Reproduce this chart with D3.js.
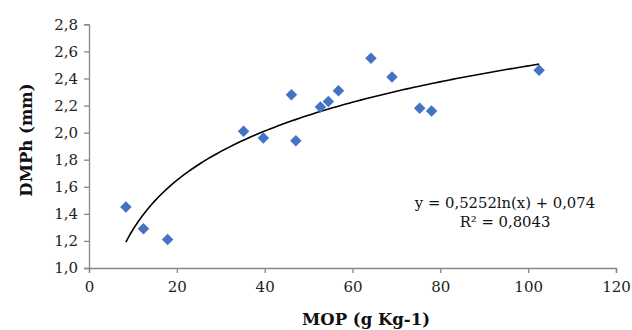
<!DOCTYPE html>
<html><head><meta charset="utf-8">
<script src="https://cdn.jsdelivr.net/npm/d3@7"></script>
<style>body{margin:0;background:#fff}svg{display:block}</style>
</head><body>
<script>
const mopValues = [8.4, 12.4, 17.9, 35.2, 39.7, 46.1, 47.1, 52.7, 54.5, 56.8, 64.2, 69.0, 75.3, 78.0, 102.5];
const dmphValues = [1.45, 1.29, 1.21, 2.01, 1.96, 2.28, 1.94, 2.19, 2.23, 2.31, 2.55, 2.41, 2.18, 2.16, 2.46];
const xTicks = [0, 20, 40, 60, 80, 100, 120];
const yTicks = [1.0, 1.2, 1.4, 1.6, 1.8, 2.0, 2.2, 2.4, 2.6, 2.8];
const trendCoef = [0.5252, 0.074]; // y = a ln(x) + b
const eqLabels = ["y = 0,5252ln(x) + 0,074", "R² = 0,8043"];

const W = 632, H = 330;
const svg = d3.select("body").append("svg").attr("width", W).attr("height", H);
const font = "'DejaVu Serif', serif";
const x = d3.scaleLinear().domain([0, 120]).range([89, 616]);
const y = d3.scaleLinear().domain([1.0, 2.8]).range([268, 24.3]);
const fmt = d => d3.format(".1f")(d).replace(".", ",");

const gx = svg.append("g").attr("transform", `translate(0,${y(1.0)})`)
  .call(d3.axisBottom(x).tickValues(xTicks).tickSize(5).tickPadding(8).tickFormat(d => d));
const gy = svg.append("g").attr("transform", `translate(${x(0)},0)`)
  .call(d3.axisLeft(y).tickValues(yTicks).tickSize(5).tickPadding(6).tickFormat(fmt));
[gx, gy].forEach(g => {
  g.select(".domain").attr("stroke", "#868686").attr("stroke-width", 1.3);
  g.selectAll(".tick line").attr("stroke", "#868686").attr("stroke-width", 1.3);
  g.selectAll(".tick text").attr("font-family", font).attr("font-size", 15).attr("fill", "#222");
});

// trendline
const xmin = d3.min(mopValues), xmax = d3.max(mopValues);
const trendX = d3.range(0, 101).map(i => xmin + (xmax - xmin) * i / 100);
svg.append("path")
  .datum(trendX)
  .attr("fill", "none").attr("stroke", "#000").attr("stroke-width", 1.6)
  .attr("d", d3.line().x(d => x(d)).y(d => y(trendCoef[0] * Math.log(d) + trendCoef[1])));

// points
const sym = d3.symbol().type(d3.symbolDiamond2).size(84);
svg.append("g").selectAll("path").data(mopValues).join("path")
  .attr("transform", (d, i) => `translate(${x(d)},${y(dmphValues[i])})`)
  .attr("d", sym).attr("fill", "#4472C4");

// equation
svg.append("g").selectAll("text").data(eqLabels).join("text")
  .attr("x", 505).attr("y", (d, i) => 208 + i * 18.5)
  .attr("text-anchor", "middle").attr("font-family", font).attr("font-size", 14.8)
  .attr("fill", "#111").text(d => d);

// axis titles
svg.append("text").attr("x", 366).attr("y", 325).attr("text-anchor", "middle")
  .attr("font-family", font).attr("font-weight", "bold").attr("font-size", 16.5)
  .attr("fill", "#111").text("MOP (g Kg-1)");
svg.append("text").attr("transform", "translate(32,140) rotate(-90)").attr("text-anchor", "middle")
  .attr("font-family", font).attr("font-weight", "bold").attr("font-size", 16.5)
  .attr("fill", "#111").text("DMPh (mm)");
</script>
</body></html>
